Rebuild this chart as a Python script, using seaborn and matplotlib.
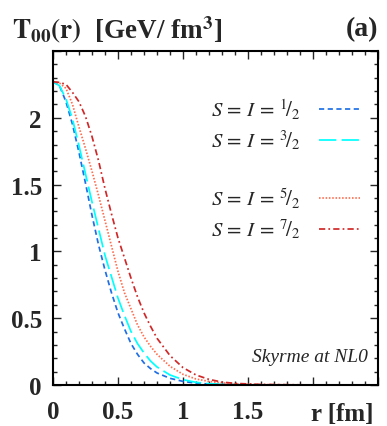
import numpy as np
import pandas as pd
import matplotlib
matplotlib.use("Agg")
import matplotlib.pyplot as plt
from matplotlib.lines import Line2D
from matplotlib.ticker import MultipleLocator
import seaborn as sns

# ---- data ----
r = [0.0, 0.05, 0.1, 0.15, 0.2, 0.25, 0.3, 0.35, 0.4, 0.45, 0.5, 0.55,
     0.6, 0.65, 0.7, 0.75, 0.8, 0.9, 1.0, 1.1, 1.2, 1.3, 1.4, 1.6, 2.0, 2.5]
t_half = [2.27, 2.24, 2.12, 1.95, 1.74, 1.51, 1.27, 1.05, 0.86, 0.69, 0.54, 0.42,
          0.31, 0.23, 0.165, 0.123, 0.09, 0.05, 0.027, 0.014, 0.007, 0.004, 0.002, 0.0005, 0.0, 0.0]
t_three = [2.27, 2.24, 2.14, 1.99, 1.79, 1.58, 1.37, 1.17, 0.97, 0.81, 0.65, 0.52,
           0.40, 0.31, 0.24, 0.18, 0.135, 0.075, 0.04, 0.02, 0.01, 0.005, 0.003, 0.001, 0.0, 0.0]
t_five = [2.27, 2.26, 2.22, 2.10, 1.93, 1.77, 1.60, 1.42, 1.23, 1.04, 0.85, 0.69,
          0.57, 0.45, 0.36, 0.29, 0.23, 0.14, 0.08, 0.045, 0.027, 0.016, 0.009, 0.003, 0.0003, 0.0]
t_seven = [2.27, 2.265, 2.25, 2.19, 2.12, 2.01, 1.86, 1.68, 1.47, 1.28, 1.10, 0.95,
           0.80, 0.66, 0.54, 0.44, 0.35, 0.22, 0.13, 0.075, 0.042, 0.022, 0.012, 0.004, 0.0005, 0.0]
series_keys = ["1/2", "3/2", "5/2", "7/2"]
series_labels = [r"$S\,=\,I\,=\,{}^{1}\!/_{2}$", r"$S\,=\,I\,=\,{}^{3}\!/_{2}$",
                 r"$S\,=\,I\,=\,{}^{5}\!/_{2}$", r"$S\,=\,I\,=\,{}^{7}\!/_{2}$"]
x_ticklabels = ["0", "0.5", "1", "1.5", "", ""]
y_ticklabels = ["0", "0.5", "1", "1.5", "2", ""]

colors = {"1/2": "#1e6fe6", "3/2": "#00ffff", "5/2": "#ff6e50", "7/2": "#d02828"}
dashes = {"1/2": (3, 2), "3/2": (10, 3), "5/2": (0.9, 1.0), "7/2": (3.6, 1.8, 1.0, 1.8)}
LW = 1.25

df = pd.concat([
    pd.DataFrame({"r": r, "T": vals, "S": key})
    for key, vals in zip(series_keys, [t_half, t_three, t_five, t_seven])
])

sns.set_style("white")
plt.rcParams["font.family"] = ["Liberation Serif", "DejaVu Serif"]
plt.rcParams["mathtext.fontset"] = "stix"

fig = plt.figure(figsize=(3.87, 4.27), dpi=100)
ax = fig.add_axes([53/387, 1 - 386/427, (378-53)/387, (386-52)/427])

sns.lineplot(data=df, x="r", y="T", hue="S", style="S", palette=colors,
             dashes=dashes, hue_order=series_keys, style_order=series_keys,
             linewidth=LW, legend=False, ax=ax, sort=False)

ax.set_xlim(0, 2.5)
ax.set_ylim(0, 2.5)
ax.set_xticks([0, 0.5, 1, 1.5, 2, 2.5])
ax.set_xticklabels(x_ticklabels)
ax.set_yticks([0, 0.5, 1, 1.5, 2, 2.5])
ax.set_yticklabels(y_ticklabels)
ax.xaxis.set_minor_locator(MultipleLocator(0.1))
ax.yaxis.set_minor_locator(MultipleLocator(0.1))
ax.tick_params(which="both", direction="in", top=True, right=True,
               bottom=True, left=True, width=1.0)
ax.tick_params(which="major", length=6, labelsize=18)
ax.tick_params(axis="x", which="major", pad=11)
ax.tick_params(axis="y", which="major", pad=8)
ax.tick_params(which="minor", length=3)
for lab in ax.get_xticklabels() + ax.get_yticklabels():
    lab.set_fontweight("bold")
ax.set_xlabel("")
ax.set_ylabel("")
for s in ax.spines.values():
    s.set_linewidth(1.5)
    s.set_color("black")

ax.text(0.985, -0.05, "r [fm]", transform=ax.transAxes, ha="right", va="top",
        fontsize=18, fontweight="bold")
fig.text(12/387, 1 - 30/427, r"$\mathbf{T_{00}(r)}$  [GeV/ fm$^{\mathbf{3}}$]",
         ha="left", va="center", fontsize=19.5, fontweight="bold")
fig.text(378/387, 1 - 30/427, "(a)", ha="right", va="center",
         fontsize=20, fontweight="bold")
ax.text(0.97, 0.084, "Skyrme at NL0", transform=ax.transAxes, ha="right",
        va="center", fontsize=14, style="italic")

handles = [Line2D([], [], color=colors[k], linestyle=(0, dashes[k]), linewidth=LW)
           for k in series_keys]
blank = Line2D([], [], color="none")
hl = [handles[0], handles[1], blank, handles[2], handles[3]]
ll = [series_labels[0], series_labels[1], " ", series_labels[2], series_labels[3]]
ax.legend(hl, ll, loc="upper right", bbox_to_anchor=(1.003, 0.918), frameon=False,
          markerfirst=False, fontsize=15, handlelength=2.0, labelspacing=0.33,
          handletextpad=0.9)

fig.savefig("out.png", dpi=100)
